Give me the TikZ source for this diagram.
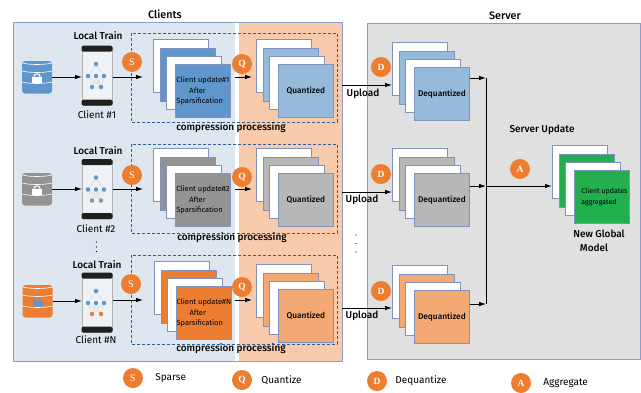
\documentclass[tikz,border=0pt]{standalone}
\usepackage{fontspec}
\setmainfont{Fira Sans}
\newfontfamily\medfont{Fira Sans Medium}
\newfontfamily\badgefont{Liberation Serif}
\usetikzlibrary{positioning,arrows.meta}
\definecolor{clientbg}{HTML}{DEE7F0}
\definecolor{quantbg}{HTML}{F7CBAC}
\definecolor{serverbg}{HTML}{E0E0E0}
\definecolor{panelline}{HTML}{8C9CCB}
\definecolor{cardline}{HTML}{7F93BC}
\definecolor{badge}{HTML}{ED7D31}
\definecolor{dashline}{HTML}{2F5F95}
\definecolor{bluedark}{HTML}{5F97CC}
\definecolor{bluelight}{HTML}{96BADC}
\definecolor{greydark}{HTML}{939393}
\definecolor{greylight}{HTML}{B7B7B7}
\definecolor{orangedark}{HTML}{ED7D31}
\definecolor{orangelight}{HTML}{F4A975}
\definecolor{greenfill}{HTML}{22B04E}
\definecolor{phonebg}{HTML}{EFF2F6}
\tikzset{
  panel/.style={draw=panelline,line width=.8pt},
  card/.style={draw=cardline,line width=.8pt,fill=white,minimum width=55pt,minimum height=53pt,
    inner sep=0pt,anchor=north west,align=center},
  updatetext/.style={align=left,font=\fontsize{7.5}{10.5}\selectfont},
  boldtext/.style={font=\medfont\fontsize{8.3}{11}\selectfont},
  greentext/.style={align=left,font=\fontsize{7}{11}\selectfont},
  badgenode/.style={circle,fill=badge,text=white,minimum size=20pt,inner sep=0pt,
    font=\badgefont\fontsize{10}{10}\selectfont},
  badgebold/.style={badgenode,font=\badgefont\bfseries\fontsize{9.5}{10}\selectfont},
  title/.style={inner sep=0pt,font=\medfont\fontsize{10}{11}\selectfont},
  headline/.style={inner sep=0pt,font=\medfont\fontsize{10.8}{11}\selectfont},
  lbl/.style={inner sep=0pt,font=\fontsize{10}{11}\selectfont},
  flow/.style={-{Latex[length=7pt,width=4.5pt]},line width=.8pt},
  dashbox/.style={draw=dashline,densely dashed,line width=.6pt},
  dotnode/.style={circle,minimum size=4.5pt,inner sep=0pt},
  morenode/.style={circle,fill=black,minimum size=1.4pt,inner sep=0pt}
}
% one stack of four cards: name, x, y, colour, text, style of the text
\newcommand{\cardstack}[6]{
  \node[card] (#1a) at (#2,#3) {};
  \node[card,fill=#4] (#1b) at (#2+6.5,#3+8.5) {};
  \node[card] (#1c) at (#2+13,#3+16.5) {};
  \node[card,fill=#4,#6] (#1d) at (#2+22,#3+25) {#5};
}
% phone with its small network: name, x, y, colour of the lower dots
\newcommand{\clientphone}[4]{
  \node[draw=black!30,line width=.9pt,fill=phonebg,rounded corners=2pt,minimum width=30pt,minimum height=59pt,
    inner sep=0pt,anchor=north west] (#1) at (#2,#3) {};
  \fill[black!88,rounded corners=1.5pt] (#2-.5,#3-.5) rectangle (#2+30.5,#3+5.5);
  \fill[black!88,rounded corners=1.5pt] (#2-.5,#3+53.5) rectangle (#2+30.5,#3+59.5);
  \node[dotnode] (#1t) at (#2+14,#3+18) {};
  \node[dotnode] (#1l) at (#2+6,#3+30) {};
  \node[dotnode] (#1m) at (#2+14,#3+30) {};
  \node[dotnode] (#1r) at (#2+22,#3+30) {};
  \node[dotnode] (#1p) at (#2+10,#3+41) {};
  \node[dotnode] (#1q) at (#2+19,#3+41) {};
  \draw[black!20,line width=.3pt] (#1t) -- (#1l) (#1t) -- (#1m) (#1t) -- (#1r)
    (#1l) -- (#1p) (#1m) -- (#1p) (#1r) -- (#1p) (#1l) -- (#1q) (#1m) -- (#1q) (#1r) -- (#1q);
  \node[dotnode,fill=bluedark] at (#1t) {};
  \node[dotnode,fill=bluedark] at (#1l) {};
  \node[dotnode,fill=bluedark] at (#1m) {};
  \node[dotnode,fill=bluedark] at (#1r) {};
  \node[dotnode,fill=#4] at (#1p) {};
  \node[dotnode,fill=#4] at (#1q) {};
}
% database drum with a lock: name, x, y, colour, colour of the lock
\newcommand{\clientdb}[5]{
  \fill[#4,rounded corners=3pt] (#2,#3) rectangle (#2+30,#3+32.5);
  \draw[white,line width=.6pt] (#2,#3+2) .. controls (#2+8,#3+4) and (#2+22,#3+4) .. (#2+30,#3+2);
  \draw[white,line width=.6pt] (#2,#3+10) .. controls (#2+8,#3+12) and (#2+22,#3+12) .. (#2+30,#3+10);
  \draw[white,line width=.6pt] (#2,#3+21) .. controls (#2+8,#3+23) and (#2+22,#3+23) .. (#2+30,#3+21);
  \node[fill=#5,minimum width=10pt,minimum height=6.5pt,inner sep=0pt] (#1) at (#2+15,#3+19) {};
  \draw[#5,line width=1pt] (#2+11.8,#3+16) arc (180:360:3.2);
  \coordinate (#1out) at (#2+30,#3+16);
}
\begin{document}
\begin{tikzpicture}[x=1pt,y=-1pt]
  \useasboundingbox (0,0) rectangle (641,392);
  % client and server panels
  \fill[clientbg] (13.5,22.5) rectangle (235,361);
  \fill[quantbg] (238.5,22.5) rectangle (342,361);
  \draw[panel] (342,22.5) -- (13.5,22.5) -- (13.5,361) -- (342,361) -- cycle;
  \fill[white] (235,23) rectangle (238.5,360.5);
  \draw[panel,fill=serverbg] (367.7,23.5) rectangle (640,359);
  \node[headline] (clients) at (165,14) {Clients};
  \node[headline] (server) at (505,16) {Server};

  % compression boxes
  \draw[dashbox] (131,33) rectangle (337,122);
  \draw[dashbox] (131,144) rectangle (337,233);
  \draw[dashbox] (131,255) rectangle (337,344);
  \node[title] (comp1) at (231,128) {compression processing};
  \node[title] (comp2) at (232,238) {compression processing};
  \node[title] (comp3) at (231,349) {compression processing};

  % clients
  \clientdb{db1}{22}{61}{bluedark}{white}
  \clientdb{db2}{22}{173}{greydark}{white}
  \clientdb{db3}{22.5}{285}{orangedark}{bluedark}
  \clientphone{ph1}{82}{46}{bluedark}
  \clientphone{ph2}{82}{159.5}{greydark}
  \clientphone{ph3}{82}{273}{orangedark}
  \node[title] (train1) at (98,36) {Local Train};
  \node[title] (train2) at (98,150.5) {Local Train};
  \node[title] (train3) at (97,265) {Local Train};
  \node[lbl] (name1) at (97,115) {Client \#1};
  \node[lbl] (name2) at (96,229) {Client \#2};
  \node[lbl] (name3) at (96,340) {Client \#N};
  \node[morenode] (more1) at (96.5,242) {};
  \node[morenode] (more2) at (96.5,247) {};
  \node[morenode] (more3) at (96.5,251.5) {};

  % client stacks
  \cardstack{up1}{153}{39}{bluedark}{Client update\#1\\\hspace{13pt}After\\Sparsification}{updatetext}
  \cardstack{up2}{153}{148}{greydark}{Client update\#2\\\hspace{13pt}After\\Sparsification}{updatetext}
  \cardstack{up3}{154}{261}{orangedark}{Client update\#N\\\hspace{13pt}After\\Sparsification}{updatetext}
  \cardstack{qu1}{256}{39}{bluelight}{Quantized}{boldtext}
  \cardstack{qu2}{256}{148}{greylight}{Quantized}{boldtext}
  \cardstack{qu3}{256}{264}{orangelight}{Quantized}{boldtext}

  % server stacks
  \cardstack{de1}{392}{42}{bluelight}{Dequantized}{boldtext}
  \cardstack{de2}{392}{148}{greylight}{Dequantized}{boldtext}
  \cardstack{de3}{392}{265}{orangelight}{Dequantized}{boldtext}
  \cardstack{gl}{552}{145}{greenfill}{\hspace{5pt}Client updates\\\hspace{5pt}aggregated}{greentext}

  % connectors
  \coordinate (s1) at (143,77);
  \coordinate (s2) at (143,189);
  \coordinate (s3) at (143,300);
  \coordinate (q1a) at (235,77);
  \coordinate (q1b) at (252,77);
  \coordinate (q2a) at (235,189);
  \coordinate (q2b) at (252,189);
  \coordinate (q3a) at (235,300);
  \coordinate (q3b) at (252,300);
  \coordinate (u1) at (342,85);
  \coordinate (u2) at (342,192);
  \coordinate (u3) at (342,308);
  \coordinate (bus1) at (486,78);
  \coordinate (bus2) at (486,186);
  \coordinate (bus3) at (486,304);
  \coordinate (glin) at (552,186);
  \draw[flow] (db1out) -- (ph1.west |- db1out);
  \draw[flow] (db2out) -- (ph2.west |- db2out);
  \draw[flow] (db3out) -- (ph3.west |- db3out);
  \draw[flow] (ph1.east |- s1) -- (s1);
  \draw[flow] (ph2.east |- s2) -- (s2);
  \draw[flow] (ph3.east |- s3) -- (s3);
  \draw[flow] (q1a) -- (q1b);
  \draw[flow] (q2a) -- (q2b);
  \draw[flow] (q3a) -- (q3b);
  \draw[flow] (u1) -- (u1 -| de1a.west);
  \draw[flow] (u2) -- (u2 -| de2a.west);
  \draw[flow] (u3) -- (u3 -| de3a.west);
  \draw[flow] (de1d.east |- bus1) -- (bus1);
  \draw[flow] (de2d.east |- bus2) -- (bus2);
  \draw[flow] (de3d.east |- bus3) -- (bus3);
  \draw[line width=.9pt] (bus1) -- (bus3);
  \draw[flow,line width=1pt] (bus2) -- (glin);

  % badges
  \node[badgenode] (S1) at (132,62) {S};
  \node[badgenode] (S2) at (132,175) {S};
  \node[badgenode] (S3) at (131,284) {S};
  \node[badgebold] (Q1) at (242,64) {Q};
  \node[badgebold] (Q2) at (242,177) {Q};
  \node[badgebold] (Q3) at (242,287) {Q};
  \node[badgebold] (D1) at (381,67) {D};
  \node[badgebold] (D2) at (381,174) {D};
  \node[badgebold] (D3) at (381,291) {D};
  \node[badgebold] (A1) at (520,169) {A};

  % server labels
  \node[title] (up1l) at (363,94) {Upload};
  \node[title] (up2l) at (362,200) {Upload};
  \node[title] (up3l) at (362,316) {Upload};
  \node[morenode] (more4) at (356,235) {};
  \node[morenode] (more5) at (356,243.5) {};
  \node[morenode] (more6) at (356,252) {};
  \node[title] (update) at (542,130) {Server Update};
  \node[title] (newg) at (599,234) {New Global};
  \node[title] (model) at (594,248) {Model};

  % legend
  \node[badgenode] (legS) at (133,378) {S};
  \node[lbl,right=12pt of legS] (txtS) {Sparse};
  \node[badgebold] (legQ) at (242,380) {Q};
  \node[lbl,right=9pt of legQ] (txtQ) {Quantize};
  \node[badgebold] (legD) at (377,381) {D};
  \node[lbl,right=8pt of legD] (txtD) {Dequantize};
  \node[badgebold] (legA) at (521,383) {A};
  \node[lbl,right=12pt of legA] (txtA) {Aggregate};
\end{tikzpicture}
\end{document}
